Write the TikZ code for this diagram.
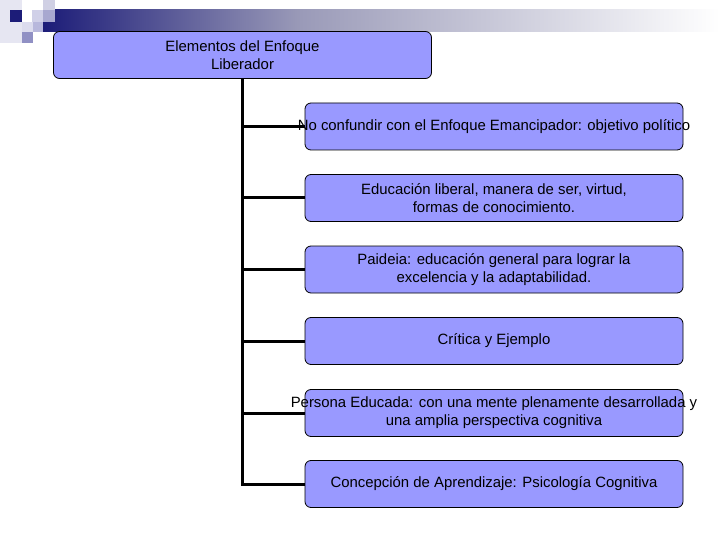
\documentclass[tikz,border=0pt]{standalone}
\usepackage{fontspec}
\setmainfont{Liberation Sans}
\usetikzlibrary{backgrounds}
\definecolor{boxfill}{HTML}{9999FF}
\definecolor{navy}{HTML}{1C1C78}
\definecolor{midg}{HTML}{9A9AB8}
\definecolor{sqa}{HTML}{E6E6F2}
\definecolor{sqb}{HTML}{D0D0E8}
\definecolor{sqc}{HTML}{D0D0E4}
\definecolor{sqd}{HTML}{A8A8D0}
\definecolor{sqe}{HTML}{DCDCEE}
\definecolor{sqf}{HTML}{B8B8DC}
\definecolor{sqg}{HTML}{9090C4}
\newcommand\zbox[1]{\makebox[0pt][c]{#1}}
\tikzset{
  box/.style={draw=black, line width=0.8pt, fill=boxfill, rounded corners=6pt,
    minimum width=378pt, minimum height=47pt, inner sep=0pt, align=center,
    font=\fontsize{14.9}{18}\selectfont},
  conn/.style={line width=3pt, black},
}
\begin{document}
\begin{tikzpicture}[x=1pt,y=-1pt]
\useasboundingbox (0,0) rectangle (720,540);
% decoration
\fill[sqa] (0,0) rectangle (22,43);
\shade[left color=navy, right color=midg] (43,10) rectangle (300,32);
\shade[left color=midg, right color=white] (300,10) rectangle (720,32);
\fill[navy] (10,10) rectangle (22,22);
\fill[sqb] (32,10) rectangle (43,22);
\fill[sqc] (43,0) rectangle (55,10);
\fill[sqd] (43,10) rectangle (55,22);
\fill[sqe] (22,22) rectangle (33,32);
\fill[sqf] (33,22) rectangle (43,32);
\fill[sqg] (22,32) rectangle (33,43);
% nodes
\node[box] (root) at (242.5,55) {Elementos del Enfoque\\Liberador};
\node[box] (b1) at (494,126.5) {\zbox{No confundir con el Enfoque Emancipador: objetivo político}};
\node[box] (b2) at (494,198) {Educación liberal, manera de ser, virtud,\\formas de conocimiento.};
\node[box] (b3) at (494,269.5) {Paideia: educación general para lograr la\\excelencia y la adaptabilidad.};
\node[box] (b4) at (494,341) {Crítica y Ejemplo};
\node[box] (b5) at (494,413) {\zbox{Persona Educada: con una mente plenamente desarrollada y}\\una amplia perspectiva cognitiva};
\node[box] (b6) at (494,484) {Concepción de Aprendizaje: Psicología Cognitiva};
\coordinate (top) at (242,78.5);
\coordinate (bot) at (242,485.5);
\begin{scope}[on background layer]
\draw[conn] (top) -- (bot);
\foreach \b in {b1,b2,b3,b4,b5,b6}
  \draw[conn] (top |- \b.west) -- (\b.west);
\end{scope}
\end{tikzpicture}
\end{document}
